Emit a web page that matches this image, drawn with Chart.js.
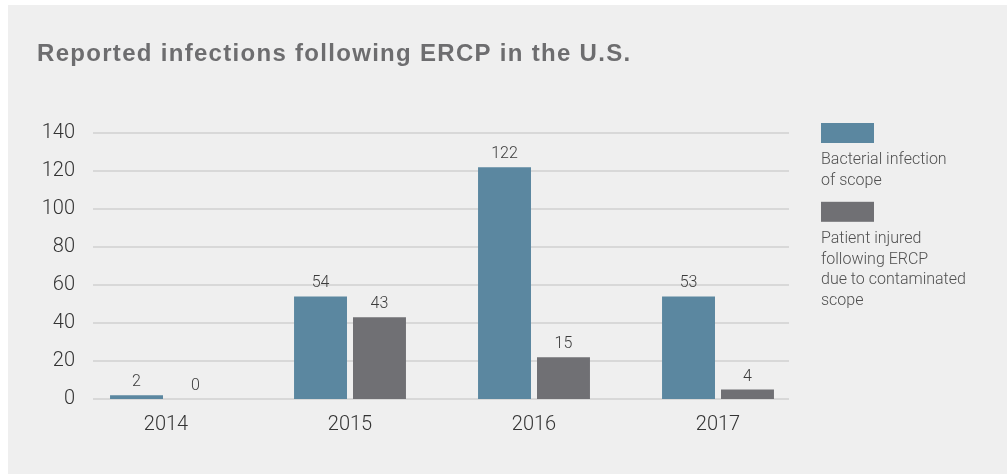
<!DOCTYPE html>
<html>
<head>
<meta charset="utf-8">
<script src="https://cdn.jsdelivr.net/npm/chart.js@4/dist/chart.umd.min.js"></script>
<style>
  html, body { margin: 0; padding: 0; background: #fff; }
  #wrap { position: relative; width: 1007px; height: 474px; }
</style>
</head>
<body>
<div id="wrap"><canvas id="chart" width="1007" height="474"></canvas></div>
<script>
// data
const years = ['2014', '2015', '2016', '2017'];
const bacterialHeights = [2, 54, 122, 54];
const injuredHeights = [0, 43, 22, 5];
const bacterialLabels = ['2', '54', '122', '53'];
const injuredLabels = ['0', '43', '15', '4'];
const seriesNames = [
  ['Bacterial infection', 'of scope'],
  ['Patient injured', 'following ERCP', 'due to contaminated', 'scope']
];
const yTicks = [0, 20, 40, 60, 80, 100, 120, 140];
const titleText = 'Reported infections following ERCP in the U.S.';

const BLUE = '#5b87a0';
const GREY = '#707074';
const FONT = 'Roboto, "Liberation Sans", sans-serif';

// light grey panel behind everything, plus the tracked-out title
const panelBg = {
  id: 'panelBg',
  beforeDraw(chart) {
    const ctx = chart.ctx;
    ctx.save();
    ctx.fillStyle = '#efefef';
    ctx.fillRect(8, 5, chart.width - 8, chart.height - 5);
    ctx.font = 'bold 24px "Liberation Sans", Arial, sans-serif';
    ctx.letterSpacing = '1.3px';
    ctx.fillStyle = '#6d6d6f';
    ctx.textBaseline = 'alphabetic';
    ctx.fillText(titleText, 37, 61);
    ctx.restore();
  }
};

// horizontal grid, shorter than the category band
const shortGrid = {
  id: 'shortGrid',
  beforeDatasetsDraw(chart) {
    const ctx = chart.ctx, y = chart.scales.y, area = chart.chartArea;
    ctx.save();
    ctx.strokeStyle = '#d8d8d8';
    ctx.lineWidth = 2;
    y.ticks.forEach(t => {
      const py = Math.round(y.getPixelForValue(t.value));
      ctx.beginPath();
      ctx.moveTo(area.left + 19, py);
      ctx.lineTo(area.right - 21, py);
      ctx.stroke();
    });
    ctx.restore();
  }
};

// numbers above the bars
const barValues = {
  id: 'barValues',
  afterDatasetsDraw(chart) {
    const ctx = chart.ctx;
    const texts = [bacterialLabels, injuredLabels];
    ctx.save();
    ctx.font = '300 16px ' + FONT;
    ctx.fillStyle = '#3c3c3c';
    ctx.textAlign = 'center';
    ctx.textBaseline = 'alphabetic';
    chart.data.datasets.forEach((ds, i) => {
      chart.getDatasetMeta(i).data.forEach((bar, j) => {
        ctx.fillText(texts[i][j], bar.x, bar.y - 9);
      });
    });
    ctx.restore();
  }
};

// legend on the right: box, then wrapped text beneath it
const sideLegend = {
  id: 'sideLegend',
  afterDraw(chart) {
    const ctx = chart.ctx;
    const x = chart.chartArea.right + 11;
    let y = 123;
    ctx.save();
    ctx.font = '300 16px ' + FONT;
    ctx.textBaseline = 'alphabetic';
    chart.data.datasets.forEach((ds, i) => {
      ctx.fillStyle = ds.backgroundColor;
      ctx.fillRect(x, y, 53, 20);
      ctx.fillStyle = '#505050';
      let base = y + 20 + 21;
      seriesNames[i].forEach(line => {
        ctx.fillText(line, x, base);
        base += 20.8;
      });
      y = base - 20.8 + 17;
    });
    ctx.restore();
  }
};

new Chart(document.getElementById('chart'), {
  type: 'bar',
  data: {
    labels: years,
    datasets: [
      { label: seriesNames[0].join(' '), data: bacterialHeights, backgroundColor: BLUE },
      { label: seriesNames[1].join(' '), data: injuredHeights, backgroundColor: GREY }
    ]
  },
  options: {
    responsive: false,
    animation: false,
    events: [],
    categoryPercentage: 0.641,
    barPercentage: 0.898,
    layout: {
      padding: { left: 37, right: 197, top: 133, bottom: 31 }
    },
    plugins: {
      legend: { display: false },
      tooltip: { enabled: false },
      title: { display: false }
    },
    scales: {
      x: {
        grid: { display: false },
        border: { display: false },
        ticks: { color: '#333', font: { family: FONT, size: 20, weight: '300' }, padding: 6 }
      },
      y: {
        min: 0,
        max: 140,
        afterFit(scale) { scale.width = 37; },
        afterBuildTicks(scale) { scale.ticks = yTicks.map(v => ({ value: v })); },
        grid: { display: false, drawTicks: false },
        border: { display: false },
        ticks: { color: '#333', font: { family: FONT, size: 20, weight: '300' }, padding: -1 }
      }
    }
  },
  plugins: [panelBg, shortGrid, barValues, sideLegend]
});
</script>
</body>
</html>
